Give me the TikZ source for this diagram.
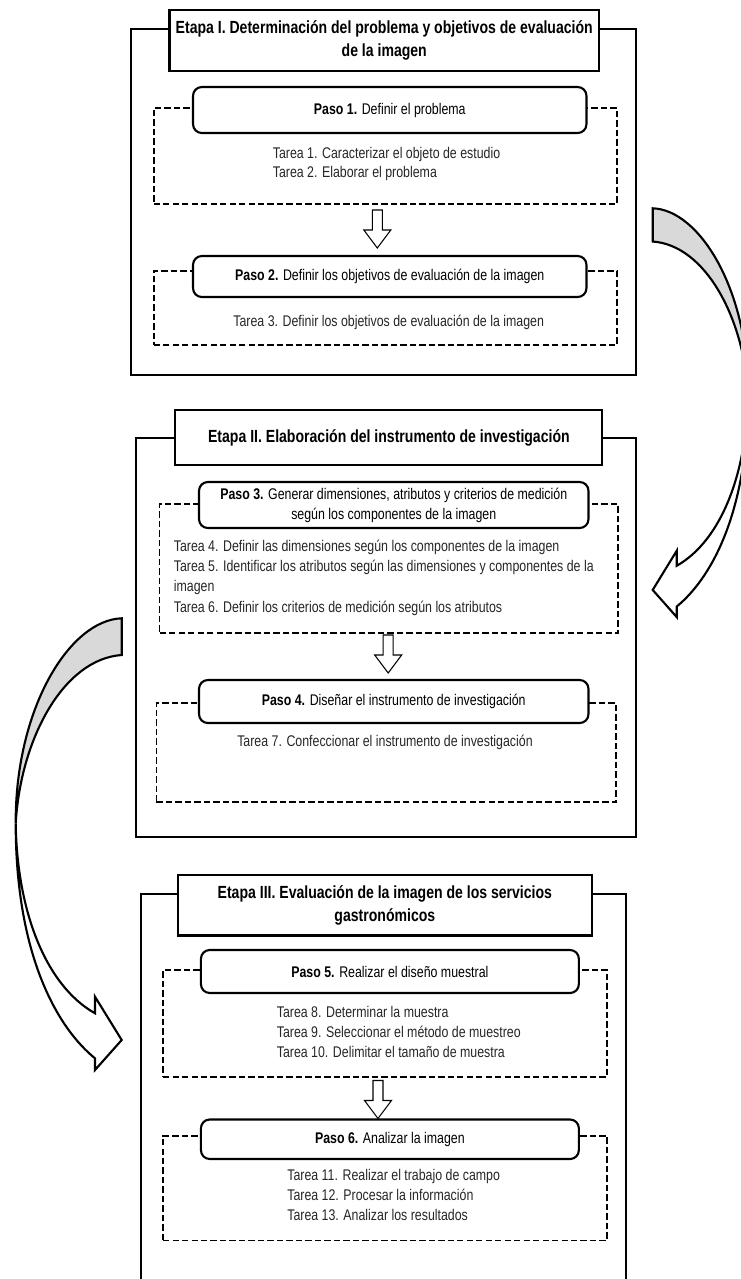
\documentclass[tikz,border=0pt]{standalone}
\usepackage{fontspec}
\setmainfont{Liberation Sans}[FakeStretch=0.8]
\begin{document}
\begin{tikzpicture}[x=0.02cm,y=-0.02cm,
  caja/.style={draw,line width=1.2pt,inner sep=0pt},
  etapa/.style={draw,fill=white,line width=1.2pt,align=center,inner sep=0pt,
    font=\fontsize{10}{13}\selectfont\bfseries},
  marco/.style={draw,line width=1pt,dash pattern=on 3.6pt off 1.8pt,inner sep=0pt},
  paso/.style={draw,fill=white,line width=1.2pt,rounded corners=5pt,align=center,
    inner sep=0pt,font=\fontsize{8.8}{11.4}\selectfont},
  tarea/.style={inner sep=0pt,align=left,text=black!85,
    font=\fontsize{8.8}{11.2}\selectfont},
  bajada/.pic={\draw[fill=white,line width=0.6pt] (-5,0) -- (-5,20) -- (-13.5,20)
    -- (0,38) -- (13.5,20) -- (5,20) -- (5,0) -- cycle;},
  flechacurva/.pic={%
    \filldraw[fill=gray!30,line width=1.2pt] (0,0)
      .. controls (-52,1.7) and (-106.5,90) .. (-106,205)
      .. controls (-101,120) and (-58,40.7) .. (0,36.7) -- cycle;
    \filldraw[fill=white,line width=1.2pt] (-106,205)
      .. controls (-106,341.7) and (-61.7,411.7) .. (-26.7,440)
      -- (-26.7,451.7) -- (0,421.7) -- (-26.7,378.4) -- (-26.7,395)
      .. controls (-76.7,366.7) and (-104.7,291.7) .. (-106,205) -- cycle;}]
\useasboundingbox (0,0) rectangle (741,1279);
% Etapa I
\node[caja,minimum width=10.10cm,minimum height=6.92cm] (caja1) at (383.5,202) {};
\node[etapa,minimum width=8.59cm,minimum height=1.22cm] (etapa1) at (384.25,40.5)
  {Etapa I. Determinación del problema y objetivos de evaluación\\de la imagen};
\node[marco,minimum width=9.27cm,minimum height=1.92cm] (marco1) at (385.35,156) {};
\node[paso,minimum width=7.87cm,minimum height=0.92cm] (paso1) at (389.75,110)
  {\textbf{Paso 1.} Definir el problema};
\node[tarea,anchor=west] (tareas1) at (272.5,164)
  {Tarea 1. Caracterizar el objeto de estudio\\Tarea 2. Elaborar el problema};
\pic at (377.3,210) {bajada};
\node[marco,minimum width=9.27cm,minimum height=1.48cm] (marco2) at (385.35,308) {};
\node[paso,minimum width=7.87cm,minimum height=0.82cm] (paso2) at (389.75,276.5)
  {\textbf{Paso 2.} Definir los objetivos de evaluación de la imagen};
\node[tarea] (tareas2) at (388.7,322)
  {Tarea 3. Definir los objetivos de evaluación de la imagen};
% Etapa II
\node[caja,minimum width=10.00cm,minimum height=7.98cm] (caja2) at (385.9,637.5) {};
\node[etapa,minimum width=8.54cm,minimum height=1.10cm] (etapa2) at (388.9,437.5)
  {Etapa II. Elaboración del instrumento de investigación};
\node[marco,minimum width=9.17cm,minimum height=2.58cm] (marco3) at (388.8,568.5) {};
\node[paso,minimum width=7.79cm,minimum height=0.92cm] (paso3) at (393.75,505)
  {\textbf{Paso 3.} Generar dimensiones, atributos y criterios de medición\\según los componentes de la imagen};
\node[tarea,anchor=west,font=\fontsize{8.8}{11.6}\selectfont] (tareas3) at (173.5,577.5)
  {Tarea 4. Definir las dimensiones según los componentes de la imagen\\
   Tarea 5. Identificar los atributos según las dimensiones y componentes de la\\
   imagen\\
   Tarea 6. Definir los criterios de medición según los atributos};
\pic at (388.2,635) {bajada};
\node[marco,minimum width=9.19cm,minimum height=1.98cm] (marco4) at (386.2,752.5) {};
\node[paso,minimum width=7.79cm,minimum height=0.86cm] (paso4) at (393.75,701.5)
  {\textbf{Paso 4.} Diseñar el instrumento de investigación};
\node[tarea] (tareas4) at (385,742)
  {Tarea 7. Confeccionar el instrumento de investigación};
% Etapa III
\draw[line width=1.2pt] (140.8,1279) -- (140.8,894.4) -- (626,894.4) -- (626,1279);
\node[etapa,minimum width=8.27cm,minimum height=1.21cm] (etapa3) at (384.85,905.25)
  {Etapa III. Evaluación de la imagen de los servicios\\gastronómicos};
\node[marco,minimum width=8.88cm,minimum height=2.14cm] (marco5) at (385,1023.5) {};
\node[paso,minimum width=7.56cm,minimum height=0.86cm] (paso5) at (389.9,971.5)
  {\textbf{Paso 5.} Realizar el diseño muestral};
\node[tarea,anchor=west] (tareas5) at (276.5,1032)
  {Tarea 8. Determinar la muestra\\Tarea 9. Seleccionar el método de muestreo\\Tarea 10. Delimitar el tamaño de muestra};
\pic at (378,1080.5) {bajada};
\node[marco,minimum width=8.88cm,minimum height=2.10cm] (marco6) at (385,1188.1) {};
\node[paso,minimum width=7.56cm,minimum height=0.79cm] (paso6) at (389.9,1139.25)
  {\textbf{Paso 6.} Analizar la imagen};
\node[tarea,anchor=west] (tareas6) at (287,1195)
  {Tarea 11. Realizar el trabajo de campo\\Tarea 12. Procesar la información\\Tarea 13. Analizar los resultados};
% flechas curvas entre etapas
\pic at (121.7,618.3) {flechacurva};
\begin{scope}
\clip (0,0) rectangle (741,1279);
\pic[xscale=-0.9,yscale=0.905] at (652.7,208.3) {flechacurva};
\end{scope}
\end{tikzpicture}
\end{document}
